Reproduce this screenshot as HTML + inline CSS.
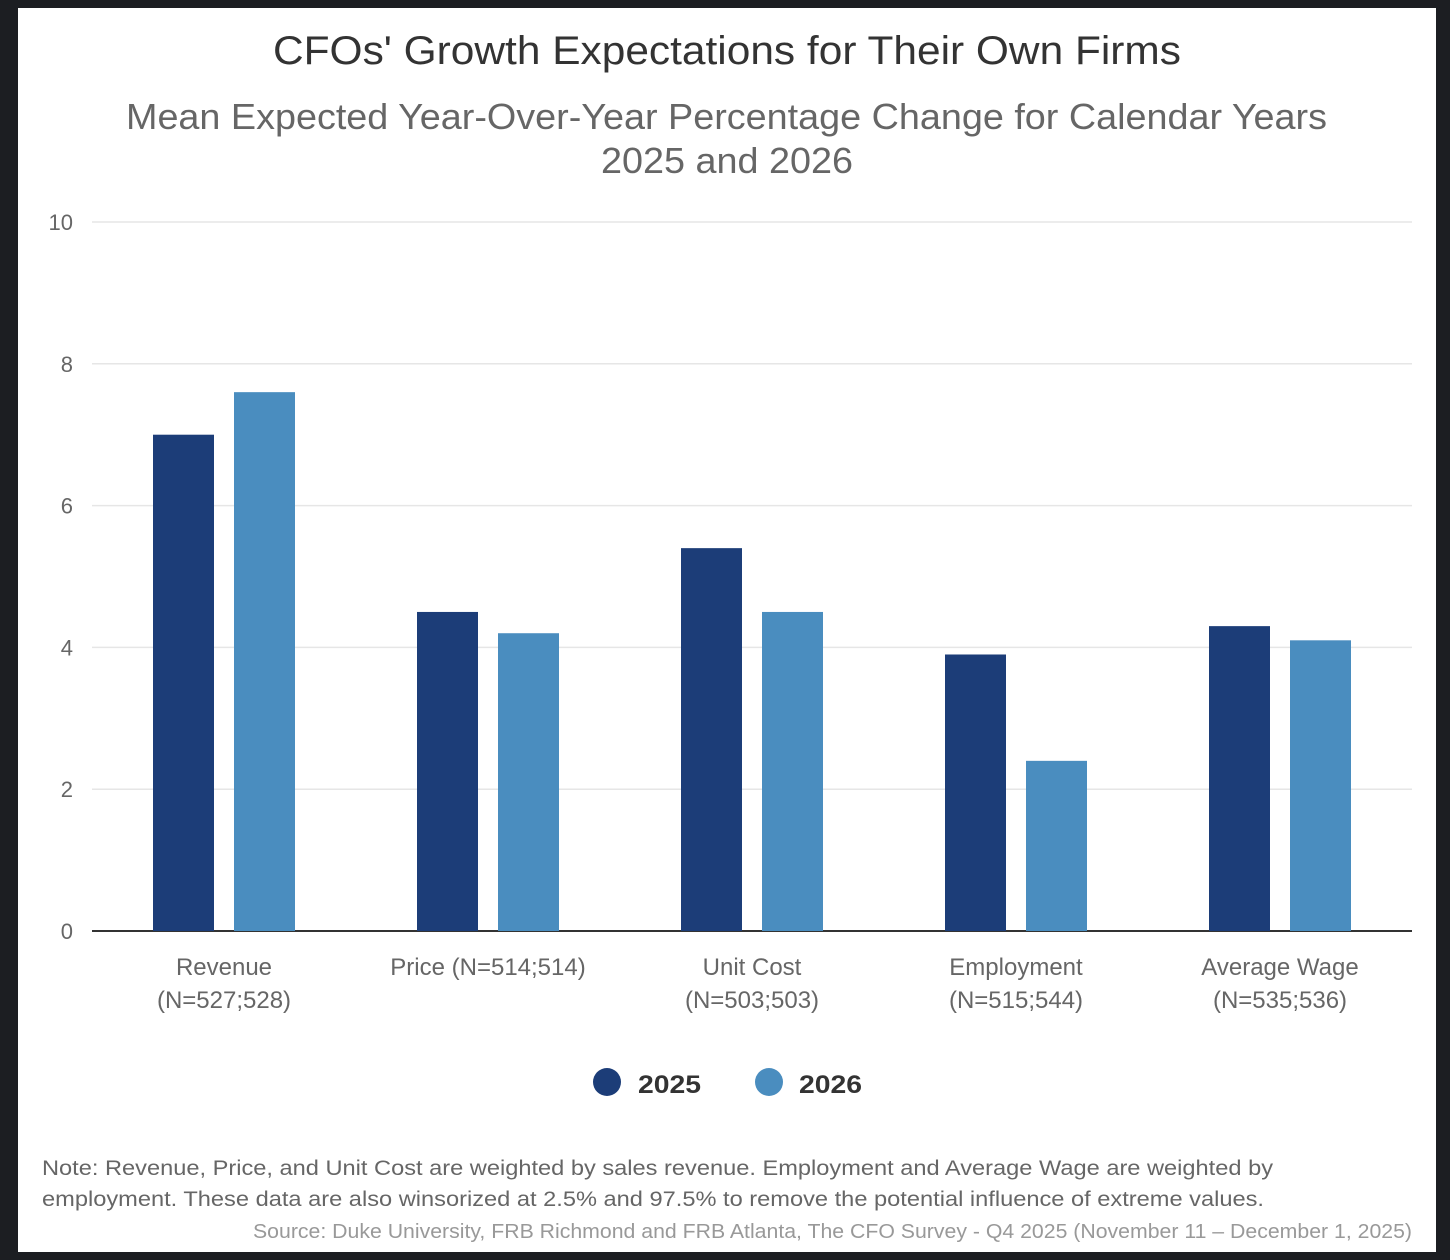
<!DOCTYPE html>
<html><head><meta charset="utf-8"><style>
body{margin:0;background:#1c1e22;}
#frame{position:absolute;left:18px;top:8px;width:1418px;height:1244px;background:#fff;}
svg{position:absolute;left:0;top:0;}
text{font-family:"Liberation Sans",sans-serif;}
</style></head><body>
<div id="frame"></div>
<svg id="chart" width="1450" height="1260">
<text x="273" y="64" textLength="908" lengthAdjust="spacingAndGlyphs" font-size="40" fill="#333">CFOs' Growth Expectations for Their Own Firms</text>
<text x="126" y="129" textLength="1201" lengthAdjust="spacingAndGlyphs" font-size="36" fill="#666">Mean Expected Year-Over-Year Percentage Change for Calendar Years</text>
<text x="601" y="173" textLength="252" lengthAdjust="spacingAndGlyphs" font-size="36" fill="#666">2025 and 2026</text>
<g id="grid"></g><g id="bars"></g><g id="xlabels"></g>
<g>
<circle cx="607" cy="1082" r="14" fill="#1c3d78"/>
<text x="638" y="1093" textLength="63" lengthAdjust="spacingAndGlyphs" font-size="25" font-weight="bold" fill="#333">2025</text>
<circle cx="769" cy="1082" r="14" fill="#4a8dbf"/>
<text x="799" y="1093" textLength="63" lengthAdjust="spacingAndGlyphs" font-size="25" font-weight="bold" fill="#333">2026</text>
</g>
<text x="42" y="1175" textLength="1231" lengthAdjust="spacingAndGlyphs" font-size="21" fill="#666">Note: Revenue, Price, and Unit Cost are weighted by sales revenue. Employment and Average Wage are weighted by</text>
<text x="42" y="1206" textLength="1222" lengthAdjust="spacingAndGlyphs" font-size="21" fill="#666">employment. These data are also winsorized at 2.5% and 97.5% to remove the potential influence of extreme values.</text>
<text x="253" y="1238" textLength="1159" lengthAdjust="spacingAndGlyphs" font-size="20" fill="#999">Source: Duke University, FRB Richmond and FRB Atlanta, The CFO Survey - Q4 2025 (November 11 – December 1, 2025)</text>
</svg>
<script>
const categories=["Revenue","Price","Unit Cost","Employment","Average Wage"];
const catLine2=["(N=527;528)","","(N=503;503)","(N=515;544)","(N=535;536)"];
const catLine1=["Revenue","Price (N=514;514)","Unit Cost","Employment","Average Wage"];
const values2025=[7.0,4.5,5.4,3.9,4.3];
const values2026=[7.6,4.2,4.5,2.4,4.1];
const yTicks=[0,2,4,6,8,10];
const NS="http://www.w3.org/2000/svg";
const x0=92,x1=1412,y0=931,yTop=222;
const y=v=>y0-(y0-yTop)*v/10;
const band=(x1-x0)/categories.length;
const cx=i=>x0+band*(i+0.5);
function mk(t,a,p){const e=document.createElementNS(NS,t);for(const k in a)e.setAttribute(k,a[k]);p.appendChild(e);return e;}
const grid=document.getElementById('grid');
yTicks.forEach(t=>{
  const l=mk('line',{x1:x0,x2:x1,y1:y(t),y2:y(t),stroke:t===0?'#333':'#e6e6e6','stroke-width':t===0?2:1.5},grid);
  
  
  const tx=mk('text',{x:73,y:y(t)+8,'text-anchor':'end','font-size':22,fill:'#666'},grid);
  tx.textContent=t;
  
  
});
const bars=document.getElementById('bars');
const bw=61,gap=20;
categories.forEach((c,i)=>{
  [[values2025,'#1c3d78',-1],[values2026,'#4a8dbf',1]].forEach(([arr,col,s])=>{
    const xl=s<0?cx(i)-gap/2-bw:cx(i)+gap/2;
    const r=mk('rect',{x:xl,y:y(arr[i]),width:bw,height:y0-y(arr[i]),fill:col},bars);
    
    
  });
  const xl=document.getElementById('xlabels');
  const t1=mk('text',{x:cx(i),y:975,'text-anchor':'middle','font-size':24,fill:'#666'},xl);
  t1.textContent=catLine1[i];
  
  
  if(catLine2[i]){
    const t2=mk('text',{x:cx(i),y:1008,'text-anchor':'middle','font-size':24,fill:'#666'},xl);
    t2.textContent=catLine2[i];
    
    
  }
});
</script>
</body></html>
